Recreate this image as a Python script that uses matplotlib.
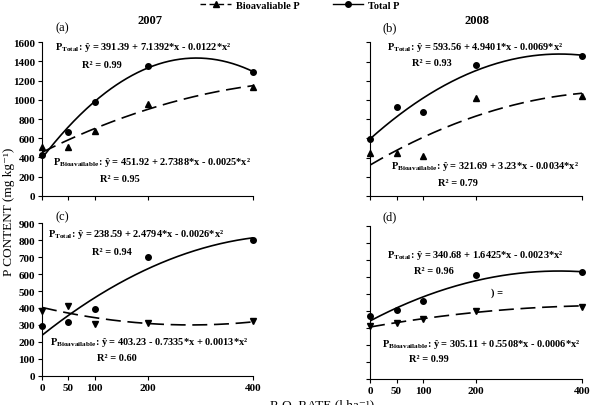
import numpy as np
import matplotlib
matplotlib.use("Agg")
import matplotlib.pyplot as plt
from matplotlib.lines import Line2D

plt.rcParams["font.family"] = ["Liberation Serif", "DejaVu Serif"]
plt.rcParams["mathtext.fontset"] = "custom"
plt.rcParams["mathtext.rm"] = "Liberation Serif:bold"
plt.rcParams["mathtext.it"] = "Liberation Serif:bold"
plt.rcParams["mathtext.bf"] = "Liberation Serif:bold"

rates = [0, 50, 100, 200, 400]

# measured points
total_a = [428, 661, 974, 1357, 1287]
bio_a = [510, 505, 678, 957, 1130]
total_b = [596, 925, 877, 1367, 1453]
bio_b = [445, 452, 418, 1017, 1041]
total_c = [291, 315, 394, 699, 803]
bio_c = [384, 413, 305, 311, 321]
total_d = [368, 403, 458, 609, 630]
bio_d = [313, 329, 350, 397, 425]

# fitted coefficients (c0, c1, c2) from the equations
fit_total = {"a": [391.39, 7.1392, -0.0122], "b": [593.56, 4.9401, -0.0069],
             "c": [238.59, 2.4794, -0.0026], "d": [340.68, 1.6425, -0.0023]}
fit_bio = {"a": [451.92, 2.7388, -0.0025], "b": [321.69, 3.23, -0.0034],
           "c": [403.23, -0.7335, 0.0013], "d": [305.11, 0.5508, -0.0006]}
r2_total = {"a": "0.99", "b": "0.93", "c": "0.94", "d": "0.96"}
r2_bio = {"a": "0.95", "b": "0.79", "c": "0.60", "d": "0.99"}

W, H = 590, 406
fig = plt.figure(figsize=(W / 100, H / 100), dpi=100)


def add_ax(l, t, r, b):
    return fig.add_axes([l / W, 1 - b / H, (r - l) / W, (b - t) / H])


def eq_text(c, kind):
    sub = "Total" if kind == "total" else "Bioavailable"
    s1 = " - " if c[1] < 0 else " + "
    s2 = " - " if c[2] < 0 else " + "
    return ("P$_{\\mathrm{%s}}$: ŷ = %g%s%g*x%s%g*x²"
            % (sub, c[0], s1, abs(c[1]), s2, abs(c[2])))


panels = {
    "a": dict(box=(42, 43.3, 253, 196.7), tot=total_a, bio=bio_a, ymax=1600, step=200,
              marker="^", ylab=True, xlab=False,
              tpos=(55, 48), trpos=(82, 66), bpos=(53, 163), brpos=(100, 179)),
    "b": dict(box=(370, 43.3, 582, 197), tot=total_b, bio=bio_b, ymax=1600, step=200,
              marker="^", ylab=False, xlab=False,
              tpos=(387, 47), trpos=(412, 63), bpos=(391, 167), brpos=(438, 183)),
    "c": dict(box=(42, 224.3, 253, 376.7), tot=total_c, bio=bio_c, ymax=900, step=100,
              marker="v", ylab=True, xlab=True,
              tpos=(48, 235), trpos=(92, 253), bpos=(50, 343), brpos=(97, 359)),
    "d": dict(box=(370, 226.7, 582, 380), tot=total_d, bio=bio_d, ymax=900, step=100,
              marker="v", ylab=False, xlab=True,
              tpos=(387, 256), trpos=(414, 272), bpos=(382, 345), brpos=(409, 360)),
}

xs = np.linspace(0, 400, 200)
for key, p in panels.items():
    ax = add_ax(*p["box"])
    ct = fit_total[key]
    cb = fit_bio[key]
    ax.plot(xs, ct[0] + ct[1] * xs + ct[2] * xs ** 2, color="black", lw=1.2)
    ax.plot(xs, cb[0] + cb[1] * xs + cb[2] * xs ** 2, color="black", lw=1.2,
            dashes=(9, 4))
    ax.plot(rates, p["tot"], "o", color="black", ms=4, clip_on=False)
    ax.plot(rates, p["bio"], p["marker"], color="black", ms=4, clip_on=False)
    ax.set_xlim(0, 400)
    ax.set_ylim(0, p["ymax"])
    ax.set_xticks(rates)
    ax.set_yticks(np.arange(0, p["ymax"] + 1, p["step"]))
    for s in ["top", "right"]:
        ax.spines[s].set_visible(False)
    ax.tick_params(direction="out", length=3, width=0.8, labelsize=8, pad=2)
    if not p["ylab"]:
        ax.set_yticklabels([])
    else:
        for t in ax.get_yticklabels():
            t.set_fontweight("bold")
    if not p["xlab"]:
        ax.set_xticklabels([])
    else:
        for t in ax.get_xticklabels():
            t.set_fontweight("bold")

    for txt, pos in [(eq_text(ct, "total"), p["tpos"]), ("R² = " + r2_total[key], p["trpos"]),
                     (eq_text(cb, "bio"), p["bpos"]), ("R² = " + r2_bio[key], p["brpos"])]:
        fig.text(pos[0] / W, 1 - pos[1] / H, txt, fontsize=7.5, fontweight="bold", va="center")

# panel labels and years
for lab, x, y in [("(a)", 62, 28), ("(b)", 390, 28), ("(c)", 62, 217), ("(d)", 390, 217)]:
    fig.text(x / W, 1 - y / H, lab, fontsize=9, ha="center", va="center")
fig.text(150 / W, 1 - 21 / H, "2007", fontsize=9, fontweight="bold", ha="center", va="center")
fig.text(477 / W, 1 - 21 / H, "2008", fontsize=9, fontweight="bold", ha="center", va="center")
fig.text(497 / W, 1 - 293 / H, ") =", fontsize=7.5, fontweight="bold", ha="center", va="center")

# legend
h1 = Line2D([], [], color="black", lw=1.0, dashes=(4, 2.5), marker="^", ms=4)
h2 = Line2D([], [], color="black", lw=1.0, marker="o", ms=4)
fig.legend([h1, h2], ["Bioavaliable P", "Total P"], loc="center",
           bbox_to_anchor=(300 / W, 1 - 6 / H), ncol=2, frameon=False,
           prop={"weight": "bold", "size": 7.5}, handlelength=2.9, columnspacing=3.2,
           borderpad=0, handletextpad=0.5)

fig.text(9 / W, 1 - 212 / H, "P CONTENT (mg kg⁻¹)", rotation=90, fontsize=9.5,
         ha="center", va="center")
fig.text(322 / W, 1 - 405 / H, "R.O. RATE (l ha⁻¹)", fontsize=9.5, ha="center", va="center")

fig.savefig("out.png", dpi=100)
